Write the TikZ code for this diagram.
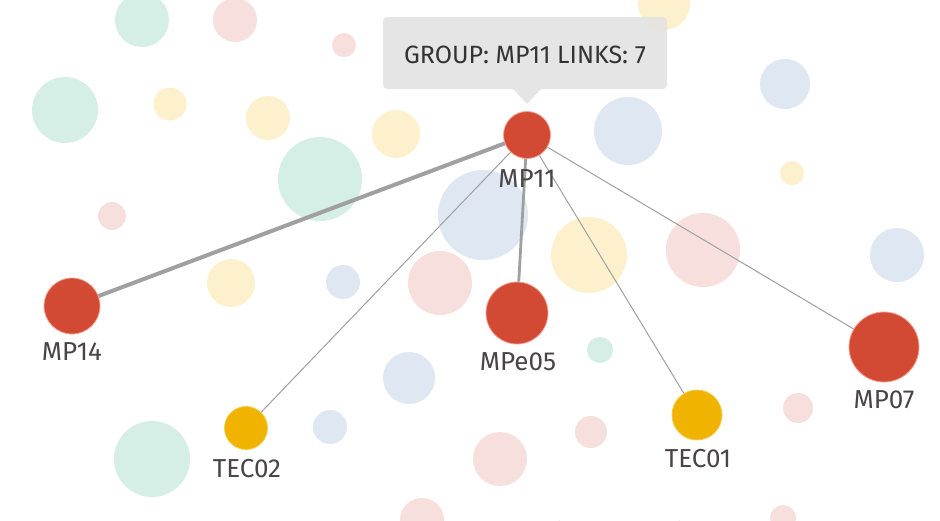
\documentclass[tikz,border=0pt]{standalone}
\usepackage{fontspec}
\setmainfont{Fira Sans}
\usetikzlibrary{backgrounds}
\definecolor{mint}{HTML}{D6EFE6}
\definecolor{pinkb}{HTML}{F7DFDD}
\definecolor{yelb}{HTML}{FDF1CD}
\definecolor{blueb}{HTML}{DFE7F2}
\definecolor{mainred}{HTML}{D24A34}
\definecolor{ringred}{HTML}{F2A090}
\definecolor{mainyel}{HTML}{F0B400}
\definecolor{edgegray}{HTML}{A0A0A0}
\definecolor{tipgray}{HTML}{E3E3E3}
\definecolor{faint}{HTML}{EBEBEB}
\definecolor{lbltext}{HTML}{4A4446}
\tikzset{
  bgc/.style={circle, inner sep=0pt, minimum size=#1},
  mnode/.style={circle, inner sep=0pt, minimum size=#1, fill=mainred, draw=ringred, line width=0.8pt},
  ynode/.style={circle, inner sep=0pt, minimum size=#1, fill=mainyel, draw=mainyel!70, line width=0.8pt},
  lbl/.style={anchor=base, font=\fontsize{26}{28}\selectfont, text=lbltext, inner sep=0pt},
  faintline/.style={draw=faint, line width=2.2pt},
  faintthin/.style={draw=faint, line width=1pt},
  thickedge/.style={draw=edgegray, line width=4pt},
  midedge/.style={draw=edgegray, line width=2.8pt},
  thinedge/.style={draw=edgegray, line width=1pt},
}
\begin{document}
\begin{tikzpicture}[x=1pt,y=-1pt]
\useasboundingbox (0,0) rectangle (940,520);
\fill[white] (0,0) rectangle (940,520);
% background nodes
\node[bgc=54, fill=mint]  (b1)  at (142,20) {};
\node[bgc=44, fill=pinkb] (b2)  at (235,20) {};
\node[bgc=24, fill=pinkb] (b3)  at (344,45) {};
\node[bgc=66, fill=mint]  (b4)  at (65,110) {};
\node[bgc=33, fill=yelb]  (b5)  at (170,104) {};
\node[bgc=44, fill=yelb]  (b6)  at (268,118) {};
\node[bgc=48, fill=yelb]  (b7)  at (396,134) {};
\node[bgc=84, fill=mint]  (b8)  at (320,179) {};
\node[bgc=28, fill=pinkb] (b9)  at (112,216) {};
\node[bgc=90, fill=blueb] (b10) at (483,215) {};
\node[bgc=52, fill=yelb]  (b11) at (664,4) {};
\node[bgc=68, fill=blueb] (b12) at (628,131) {};
\node[bgc=50, fill=blueb] (b13) at (785,84) {};
\node[bgc=24, fill=yelb]  (b14) at (792,173) {};
\node[bgc=76, fill=yelb]  (b15) at (589,255) {};
\node[bgc=74, fill=pinkb] (b16) at (703,250) {};
\node[bgc=54, fill=blueb] (b17) at (897,255) {};
\node[bgc=48, fill=yelb]  (b18) at (231,283) {};
\node[bgc=34, fill=blueb] (b19) at (343,282) {};
\node[bgc=64, fill=pinkb] (b20) at (440,283) {};
\node[bgc=52, fill=blueb] (b21) at (409,378) {};
\node[bgc=34, fill=blueb] (b22) at (330,427) {};
\node[bgc=76, fill=mint]  (b23) at (152,459) {};
\node[bgc=44, fill=pinkb] (b24) at (422,520) {};
\node[bgc=26, fill=mint]  (b25) at (600,350) {};
\node[bgc=32, fill=pinkb] (b26) at (591,432) {};
\node[bgc=54, fill=pinkb] (b27) at (500,459) {};
\node[bgc=30, fill=pinkb] (b28) at (798,408) {};
\node[bgc=26, fill=pinkb] (b29) at (783,518) {};
% free ends of faint lines
\coordinate (e1) at (0,60);
\coordinate (e2) at (0,300);
\coordinate (e3) at (0,470);
\coordinate (e4) at (940,150);
\coordinate (e5) at (940,330);
\coordinate (e6) at (940,470);
\coordinate (e7) at (60,0);
\coordinate (e8) at (560,520);
\coordinate (e9) at (680,520);
\coordinate (e10) at (20,0);
\begin{scope}[on background layer]
\path[faintline] (b4) -- (b7) (b1) -- (b8) (b2) -- (b6) (b4) -- (b8) (b8) -- (b10)
  (b5) -- (b9) (b12) -- (b13) (b11) -- (b13) (b16) -- (b17) (b10) -- (b20)
  (b20) -- (b21) (b21) -- (b27) (b23) -- (b22) (b25) -- (b28) (b26) -- (b28)
  (b15) -- (b25) (b12) -- (b16) (b13) -- (b14) (b15) -- (b16) (b19) -- (b20)
  (e1) -- (b6) (e2) -- (b18) (e3) -- (b23) (b17) -- (e4) (b16) -- (e5)
  (b28) -- (e6) (e7) -- (b8) (b27) -- (e8) (b26) -- (e9) (e10) -- (b4)
  (b18) -- (b22) (b21) -- (b26) (b3) -- (b10) (b9) -- (b8) (b2) -- (b7)
  (b22) -- (b27) (b20) -- (b24) (b12) -- (b15) (b14) -- (b16) (b6) -- (b10);
\path[faintthin] (b1) -- (b4) (b5) -- (b8) (b3) -- (b7) (b7) -- (b12) (b12) -- (b14)
  (b16) -- (b28) (b17) -- (b28) (b23) -- (b18) (b9) -- (b18) (b21) -- (b22)
  (b15) -- (b26) (b13) -- (b17) (b2) -- (b3) (b11) -- (b12);
\end{scope}
% main nodes
\node[mnode=47] (mp11) at (527,135) {};
\node[mnode=56] (mp14) at (72,306) {};
\node[mnode=62] (mpe05) at (517,313) {};
\node[mnode=70] (mp07) at (884,347) {};
\node[ynode=50] (tec01) at (697,415) {};
\node[ynode=43] (tec02) at (246,428) {};
% edges
\draw[thickedge] (mp11) -- (mp14);
\draw[midedge] (mp11) -- (mpe05);
\draw[thinedge] (mp11) -- (tec02);
\draw[thinedge] (mp11) -- (tec01);
\draw[thinedge] (mp11) -- (mp07);
% labels
\node[lbl] (l11) at (527,187) {MP11};
\node[lbl] (l14) at (72,360) {MP14};
\node[lbl] (l05) at (518,370) {MPe05};
\node[lbl] (l07) at (884,408) {MP07};
\node[lbl] (lt1) at (698,467) {TEC01};
\node[lbl] (lt2) at (247,477) {TEC02};
% tooltip
\path[fill=tipgray, fill opacity=0.92, rounded corners=4pt]
  (383,17) rectangle (667,89);
\path[fill=tipgray, fill opacity=0.92] (513,89) -- (541,89) -- (527,104) -- cycle;
\node[anchor=base, font=\fontsize{25}{27}\selectfont, text=black!80, inner sep=0pt] (tip) at (525,63) {GROUP: MP11 LINKS: 7};
\end{tikzpicture}
\end{document}
